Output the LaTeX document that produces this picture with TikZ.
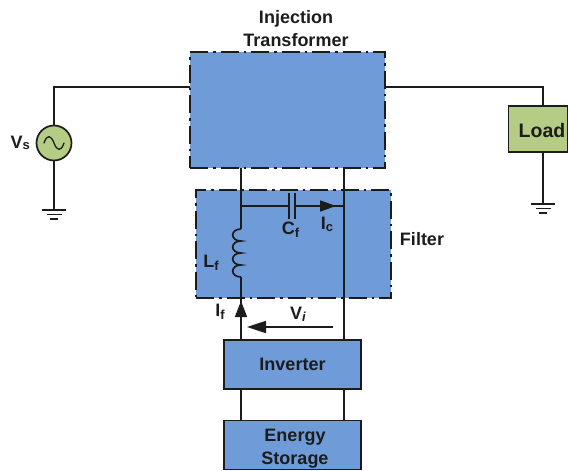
\documentclass[tikz,border=0pt]{standalone}
\usepackage{fontspec}
\setmainfont{Liberation Sans}
\usetikzlibrary{arrows.meta,positioning}
\definecolor{bluefill}{HTML}{6F9BD8}
\definecolor{greenfill}{HTML}{B5CC84}
\definecolor{ink}{HTML}{1C1C1C}
\tikzset{
  wire/.style={draw=ink,line width=1.7pt},
  thinwire/.style={draw=ink,line width=1.3pt},
  dashbox/.style={fill=bluefill,draw=ink,line width=1.7pt,dash pattern=on 18pt off 5pt on 2.5pt off 5pt,inner sep=0pt,outer sep=0pt},
  solidbox/.style={fill=bluefill,draw=ink,line width=1.7pt,inner sep=0pt,outer sep=0pt,align=center,text=ink,font=\fontsize{18}{23}\selectfont\bfseries},
  loadbox/.style={solidbox,fill=greenfill},
  lbl/.style={inner sep=0pt,align=center,text=ink,font=\fontsize{18}{23}\selectfont\bfseries},
  sublbl/.style={inner sep=0pt,text=ink,font=\fontsize{18}{20}\selectfont\bfseries},
  tipwire/.style={wire,-{Triangle[length=16pt,width=12pt]},shorten >=0pt},
}
\newcommand{\gndsym}[1]{%
  \draw[wire] ([xshift=-12pt]#1) -- ([xshift=12pt]#1);
  \draw[wire] ([xshift=-7.5pt,yshift=-4.5pt]#1) -- ([xshift=7.5pt,yshift=-4.5pt]#1);
  \draw[wire] ([xshift=-4pt,yshift=-9pt]#1) -- ([xshift=4pt,yshift=-9pt]#1);
}
\begin{document}
\begin{tikzpicture}[x=1pt,y=-1pt]
\useasboundingbox (0,0) rectangle (568,471);
% boxes
\node[dashbox,minimum width=195pt,minimum height=116pt] (tr) at (287.5,110) {};
\node[dashbox,minimum width=195pt,minimum height=108pt] (fi) at (293.5,244) {};
\node[solidbox,minimum width=137pt,minimum height=49pt] (inv) at (292.5,364.5) {Inverter};
\node[solidbox,minimum width=137pt,minimum height=49pt] (es) at (292.5,445) {};
\node[lbl] (estext) at (295,448.5) {Energy\\Storage};
\node[loadbox,minimum width=59pt,minimum height=46pt] (load) at (538,129) {};
\node[lbl,font=\fontsize{19.5}{23}\selectfont\bfseries] (loadtext) at (542,130.5) {Load};
\node[circle,draw=ink,fill=greenfill,line width=1.7pt,minimum size=35pt,inner sep=0pt] (src) at (54,143) {};
\draw[thinwire,line cap=round] (44,143) .. controls (47,134) and (51,135) .. (54,143) .. controls (57,151) and (61,152) .. (64,143);
% named points
\coordinate (lt) at (241,168);
\coordinate (rt) at (344,168);
\coordinate (lb) at (241,340);
\coordinate (rb) at (344,340);
\coordinate (ltop) at (241,206);
\coordinate (rtop) at (344,206);
\coordinate (capl) at (289,206);
\coordinate (capr) at (295,206);
\coordinate (coila) at (241,229);
\coordinate (coilb) at (241,277);
\coordinate (gs) at (54,210);
\coordinate (gl) at (543,204);
\coordinate (srcup) at (54,87);
% transformer to inverter
\draw[wire] (rt) -- (rb);
\draw[wire] (lt) -- (coila);
\draw[wire] (coilb) -- (lb);
\draw[tipwire] (241,322) -- (241,301);
% inductor
\draw[wire] (coila)
  .. controls (230,229) and (230,241) .. (241,241) 
  .. controls (230,241) and (230,253) .. (241,253)
  .. controls (230,253) and (230,265) .. (241,265)
  .. controls (230,265) and (230,277) .. (coilb);
% capacitor branch
\draw[wire] (ltop) -- (capl);
\draw[wire] (capr) -- (rtop);
\draw[wire] (289,193) -- (289,219);
\draw[wire] (295,193) -- (295,219);
\draw[wire,-{Triangle[length=16pt,width=11pt]}] (capr) -- (336,206);
% inverter to storage
\draw[wire] (241,389) -- (241,420);
\draw[wire] (344,389) -- (344,420);
% source and load wiring
\draw[wire] (src.north) -- (srcup) -- (tr.west |- srcup);
\draw[wire] (src.south) -- (gs);
\draw[wire] (tr.east |- srcup) -- (543,87) -- (load.north -| 543,0);
\draw[wire] (load.south -| 543,0) -- (gl);
\gndsym{gs}
\gndsym{gl}
% Vi arrow
\coordinate (via) at (333,327);
\coordinate (vib) at (247,327);
\draw[wire,-{Triangle[length=19pt,width=12pt]}] (via) -- (vib);
% labels
\node[lbl] (ttl) at (296,29) {Injection\\Transformer};
\node[lbl] (flt) at (422,239) {Filter};
\node[lbl,anchor=east] (vs) at (30,143) {V\raisebox{-1.5pt}{\fontsize{13}{13}\selectfont s}};
\node[sublbl] (cf) at (290.5,230) {C\raisebox{-3pt}{\fontsize{13}{13}\selectfont f}};
\node[sublbl] (ic) at (327,224) {I\raisebox{-2pt}{\fontsize{13}{13}\selectfont c}};
\node[sublbl] (lf) at (211,263) {L\raisebox{-3pt}{\fontsize{13}{13}\selectfont f}};
\node[sublbl] (if) at (220,312) {I\raisebox{-3pt}{\fontsize{13}{13}\selectfont f}};
\node[sublbl] (vi) at (298,314) {V\raisebox{-2pt}{\fontsize{13}{13}\selectfont\itshape i}};
\end{tikzpicture}
\end{document}
